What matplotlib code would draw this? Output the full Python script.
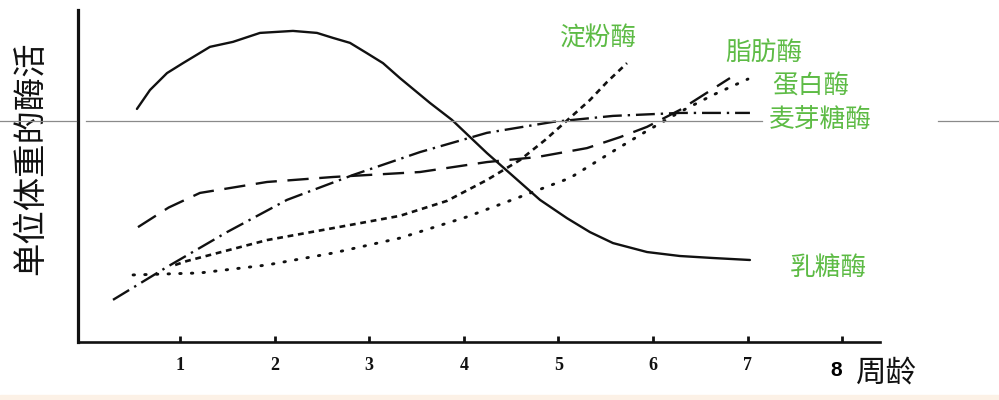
import matplotlib.pyplot as plt
from matplotlib.lines import Line2D
from matplotlib.patches import Rectangle

plt.rcParams['font.family'] = ['Noto Sans CJK SC', 'DejaVu Sans']

# weeks (x) and relative enzyme activity (y, 0-100)
lactase_x = [0.545, 0.683, 0.863, 1.032, 1.317, 1.560, 1.846, 2.194, 2.448, 2.617, 2.797,
             2.976, 3.146, 3.325, 3.643, 3.875, 4.245, 4.520, 4.806, 5.091, 5.334,
             5.577, 5.937, 6.285, 6.634, 7.025]
lactase_y = [70.2, 75.9, 81.0, 84.0, 88.9, 90.4, 93.1, 93.7, 93.1, 91.6, 90.1,
             87.0, 84.0, 79.5, 72.0, 66.9, 56.9, 50.0, 42.8, 37.3, 33.1,
             29.8, 27.1, 25.9, 25.3, 24.7]

maltase_x = [0.292, 0.863, 1.497, 2.131, 2.829, 3.537, 4.245, 4.943, 5.577, 6.285, 7.025]
maltase_y = [12.7, 22.6, 33.1, 42.8, 50.3, 57.2, 63.0, 66.3, 68.1, 69.0, 69.0]

lipase_x = [0.556, 0.880, 1.211, 1.920, 2.618, 3.537, 4.245, 4.774, 5.302, 5.651, 5.937, 6.285, 6.814]
lipase_y = [34.6, 40.5, 44.9, 48.2, 49.7, 51.2, 54.2, 55.7, 58.4, 61.7, 64.8, 69.9, 79.5]

amylase_x = [0.949, 1.074, 1.920, 2.618, 3.325, 3.822, 4.245, 4.594, 4.858, 5.122, 5.334, 5.514, 5.725]
amylase_y = [23.2, 24.4, 30.7, 34.3, 38.0, 42.5, 48.8, 54.8, 60.8, 67.5, 72.9, 78.3, 84.0]

protease_x = [0.504, 1.211, 1.920, 2.618, 3.325, 4.034, 4.594, 5.122, 5.599, 5.937, 6.285, 6.634, 7.004]
protease_y = [20.2, 20.8, 23.2, 26.8, 31.3, 37.7, 43.7, 49.4, 57.8, 63.6, 69.3, 74.4, 79.2]

week_ticks = [1, 2, 3, 4, 5, 6, 7, 8]
week_labels = ['1', '2', '3', '4', '5', '6', '7', '']

green = '#5dbb45'
W, H = 999, 400

fig = plt.figure(figsize=(9.99, 4.0), dpi=100)
fig.patches.append(Rectangle((0, 0), 1, 5 / H, transform=fig.transFigure,
                             color='#fcf1e6', zorder=0))
ax = fig.add_axes([78 / W, 58 / H, 802 / W, 332 / H])
ax.set_facecolor('none')

ax.plot(lactase_x, lactase_y, color='#111', lw=1.7, solid_capstyle='round',
        solid_joinstyle='round')
ax.plot(maltase_x, maltase_y, color='#111', lw=1.7, linestyle=(0, (8, 2.5, 1, 2.5)))
ax.plot(lipase_x, lipase_y, color='#111', lw=1.7, linestyle=(0, (9, 4.5)))
ax.plot(amylase_x, amylase_y, color='#111', lw=1.9, linestyle=(0, (2.2, 1.8)))
ax.plot(protease_x, protease_y, color='#111', lw=2.1, linestyle=(0, (0.5, 3.5)),
        dash_capstyle='round')

ax.set_xlim(-0.078, 8.40)
ax.set_ylim(0, 100)
for s in ['top', 'right']:
    ax.spines[s].set_visible(False)
ax.spines['left'].set_linewidth(2.3)
ax.spines['bottom'].set_linewidth(1.9)
ax.spines['left'].set_color('#111')
ax.spines['bottom'].set_color('#111')
ax.set_yticks([])
ax.set_xticks(week_ticks)
ax.set_xticklabels(week_labels, family='Liberation Serif', fontsize=13,
                   fontweight='bold')
ax.tick_params(axis='x', direction='in', length=4, width=2, pad=11, colors='#111')

# axis labels
fig.text(836 / W, 1 - 370 / H, '8', fontsize=15, fontweight='bold',
         family='Liberation Sans', ha='center', va='center')
fig.text(886 / W, 1 - 373 / H, '周龄', fontsize=22, ha='center', va='center',
         color='#111')
fig.text(31 / W, 1 - 158 / H, '单位体重的酶活', fontsize=24, rotation=90,
         ha='center', va='center', color='#111')

# curve names
names = ['淀粉酶', '脂肪酶', '蛋白酶', '麦芽糖酶', '乳糖酶']
name_px = [(599, 38), (764, 53), (811, 87), (820, 120), (828, 268)]
for n, (px, py) in zip(names, name_px):
    fig.text(px / W, 1 - py / H, n, fontsize=18.5, color=green,
             ha='center', va='center')

# thin slide rule across the picture
yl = 1 - 121 / H
for x0, x1 in [(0, 76), (86, 762), (938, 999)]:
    fig.add_artist(Line2D([x0 / W, x1 / W], [yl, yl], color='#8a8a8a', lw=0.9,
                          transform=fig.transFigure, zorder=5))

fig.savefig('out.png', dpi=100)
